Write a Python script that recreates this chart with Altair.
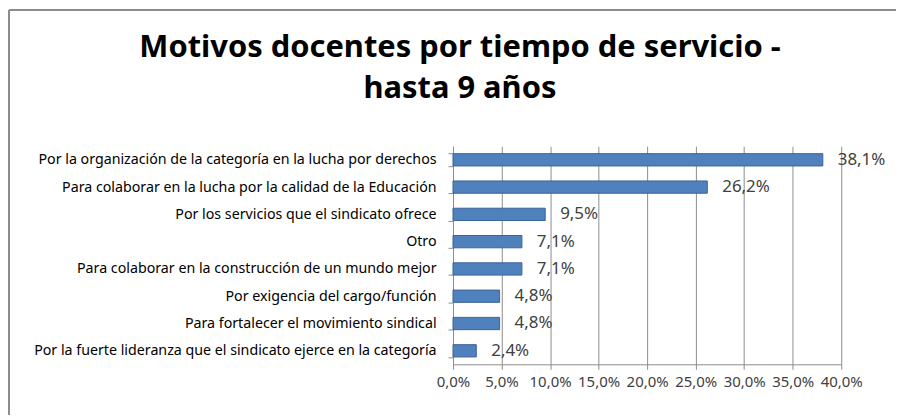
import altair as alt
import pandas as pd

categories = [
    "Por la organización de la categoría en la lucha por derechos",
    "Para colaborar en la lucha por la calidad de la Educación",
    "Por los servicios que el sindicato ofrece",
    "Otro",
    "Para colaborar en la construcción de un mundo mejor",
    "Por exigencia del cargo/función",
    "Para fortalecer el movimiento sindical",
    "Por la fuerte lideranza que el sindicato ejerce en la categoría",
]
values = [0.381, 0.262, 0.095, 0.071, 0.071, 0.048, 0.048, 0.024]
labels = ["38,1%", "26,2%", "9,5%", "7,1%", "7,1%", "4,8%", "4,8%", "2,4%"]
title_lines = ["Motivos docentes por tiempo de servicio -", "hasta 9 años"]
ticks = [0, 0.05, 0.10, 0.15, 0.20, 0.25, 0.30, 0.35, 0.40]

df = pd.DataFrame({"cat": categories, "val": values, "lab": labels})
one = pd.DataFrame({"k": [0]})

FONT = "Noto Sans"

x_enc = alt.X(
    "val:Q",
    scale=alt.Scale(domain=[0, 0.40], nice=False),
    axis=alt.Axis(
        values=ticks,
        labelExpr="replace(format(datum.value, '.1%'), '.', ',')",
        title=None,
        grid=True,
        gridColor="#8c8c8c",
        gridWidth=1,
        domainColor="#8c8c8c",
        tickColor="#8c8c8c",
        tickSize=5,
        labelFont=FONT,
        labelFontSize=15,
        labelColor="#404040",
        labelPadding=5,
        labelOverlap=False,
        labelFlush=False,
        labelBound=False,
    ),
)
y_enc = alt.Y(
    "cat:N",
    sort=categories,
    scale=alt.Scale(paddingInner=0.55, paddingOuter=0.27),
    axis=alt.Axis(
        title=None,
        domainColor="#8c8c8c",
        tickColor="#8c8c8c",
        tickSize=5,
        tickBand="extent",
        labelFont=FONT,
        labelFontSize=14.3,
        labelColor="#000000",
        labelPadding=12,
        labelLimit=0,
    ),
)

bars = alt.Chart(df).mark_bar(
    color="#4F81BD", stroke="#3B6396", strokeWidth=1
).encode(x=x_enc, y=y_enc)

text = alt.Chart(df).mark_text(
    align="left", baseline="middle", dx=15, font=FONT, fontSize=17, color="#404040"
).encode(x="val:Q", y=alt.Y("cat:N", sort=categories), text="lab:N")

title = alt.Chart(one).mark_text(
    align="center", baseline="alphabetic", font=FONT, fontSize=31,
    fontWeight="bold", color="#000000", lineHeight=41, clip=False,
).encode(x=alt.value(7), y=alt.value(-90), text=alt.value(title_lines))

border_top = alt.Chart(one).mark_rule(color="#8c8c8c", strokeWidth=2, clip=False).encode(
    x=alt.value(-446), x2=alt.value(460), y=alt.value(-137)
)
border_left = alt.Chart(one).mark_rule(color="#8c8c8c", strokeWidth=2, clip=False).encode(
    x=alt.value(-446), y=alt.value(-137), y2=alt.value(275)
)

chart = (
    alt.layer(bars, text, title, border_top, border_left)
    .properties(
        width=390,
        height=219,
        padding={"left": 447, "top": 138, "right": 55, "bottom": 50},
        autosize=alt.AutoSizeParams(type="none"),
    )
    .configure_view(stroke=None)
)

chart.save("out.html", embed_options={"renderer": "svg", "actions": False})
